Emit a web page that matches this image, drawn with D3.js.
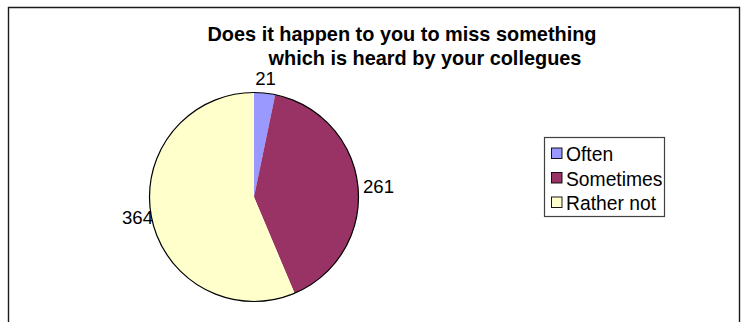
<!DOCTYPE html>
<html>
<head>
<meta charset="utf-8">
<script src="https://cdn.jsdelivr.net/npm/d3@7"></script>
<style>
  html, body { margin: 0; padding: 0; background: #fff; }
  svg { display: block; font-family: "Liberation Sans", Arial, sans-serif; }
</style>
</head>
<body>
<div id="chart"></div>
<script>
const titleLines = ["Does it happen to you to miss something", "which is heard by your collegues"];
const categories = ["Often", "Sometimes", "Rather not"];
const values = [21, 261, 364];
const colors = ["#9999FF", "#993366", "#FFFFCC"];

const width = 749, height = 322;
const cx = 254, cy = 197, r = 104.5;

const svg = d3.select("#chart").append("svg")
    .attr("width", width)
    .attr("height", height);

// outer frame (bottom runs off the picture)
svg.append("path")
  .attr("d", `M8.5,${height + 2} V7.5 H739.5 V${height + 2}`)
  .attr("fill", "none")
  .attr("stroke", "#1a1a1a")
  .attr("stroke-width", 1.4);

// title, two lines with their own centres
const titleX = [402, 425];
svg.append("g")
  .selectAll("text")
  .data(titleLines)
  .join("text")
    .attr("x", (d, i) => titleX[i])
    .attr("y", (d, i) => 40.7 + i * 23.8)
    .attr("text-anchor", "middle")
    .style("font-size", "19.9px")
    .style("font-weight", "bold")
    .style("fill", "#000")
    .text(d => d);

const color = d3.scaleOrdinal().domain(categories).range(colors);

const data = categories.map((c, i) => ({ name: c, value: values[i] }));
const pie = d3.pie().sort(null).value(d => d.value);
const arc = d3.arc().innerRadius(0).outerRadius(r);
const arcs = pie(data);

const g = svg.append("g").attr("transform", `translate(${cx},${cy})`);

g.selectAll("path")
  .data(arcs)
  .join("path")
    .attr("d", arc)
    .attr("fill", d => color(d.data.name))
    .attr("stroke", "none");

// outline of the pie only
g.append("circle")
  .attr("r", r)
  .attr("fill", "none")
  .attr("stroke", "#000")
  .attr("stroke-width", 1.2);

// data labels
const labelSize = 18.6;
const capH = labelSize * 0.716;
svg.append("g")
  .selectAll("text")
  .data(arcs)
  .join("text")
    .each(function(d) {
      const a = (d.startAngle + d.endAngle) / 2;
      const s = Math.sin(a), c = Math.cos(a);
      let anchor, pad;
      if (Math.abs(s) < 0.3) { anchor = "middle"; pad = 8; }
      else if (s > 0) { anchor = "start"; pad = 5; }
      else { anchor = "end"; pad = -1.5; }
      const x = cx + (r + pad) * s;
      let y = cy - (r + pad) * c;
      if (anchor !== "middle") y += capH / 2;
      else if (c < 0) y += capH;
      d3.select(this)
        .attr("x", x)
        .attr("y", y)
        .attr("text-anchor", anchor);
    })
    .style("font-size", labelSize + "px")
    .style("fill", "#000")
    .text(d => d.data.value);

// legend
const legend = svg.append("g");
legend.append("rect")
  .attr("x", 544.5)
  .attr("y", 137.5)
  .attr("width", 120)
  .attr("height", 79)
  .attr("fill", "#fff")
  .attr("stroke", "#404040")
  .attr("stroke-width", 1.2);

const item = legend.selectAll("g.item")
  .data(categories)
  .join("g")
    .attr("class", "item")
    .attr("transform", (d, i) => `translate(0,${161 + i * 24.5})`);

item.append("rect")
  .attr("x", 551.5)
  .attr("y", -13)
  .attr("width", 10.5)
  .attr("height", 10.5)
  .attr("fill", d => color(d))
  .attr("stroke", "#000")
  .attr("stroke-width", 0.9);

item.append("text")
  .attr("x", 566)
  .attr("y", 0)
  .style("font-size", "19.3px")
  .style("fill", "#000")
  .text(d => d);
</script>
</body>
</html>
